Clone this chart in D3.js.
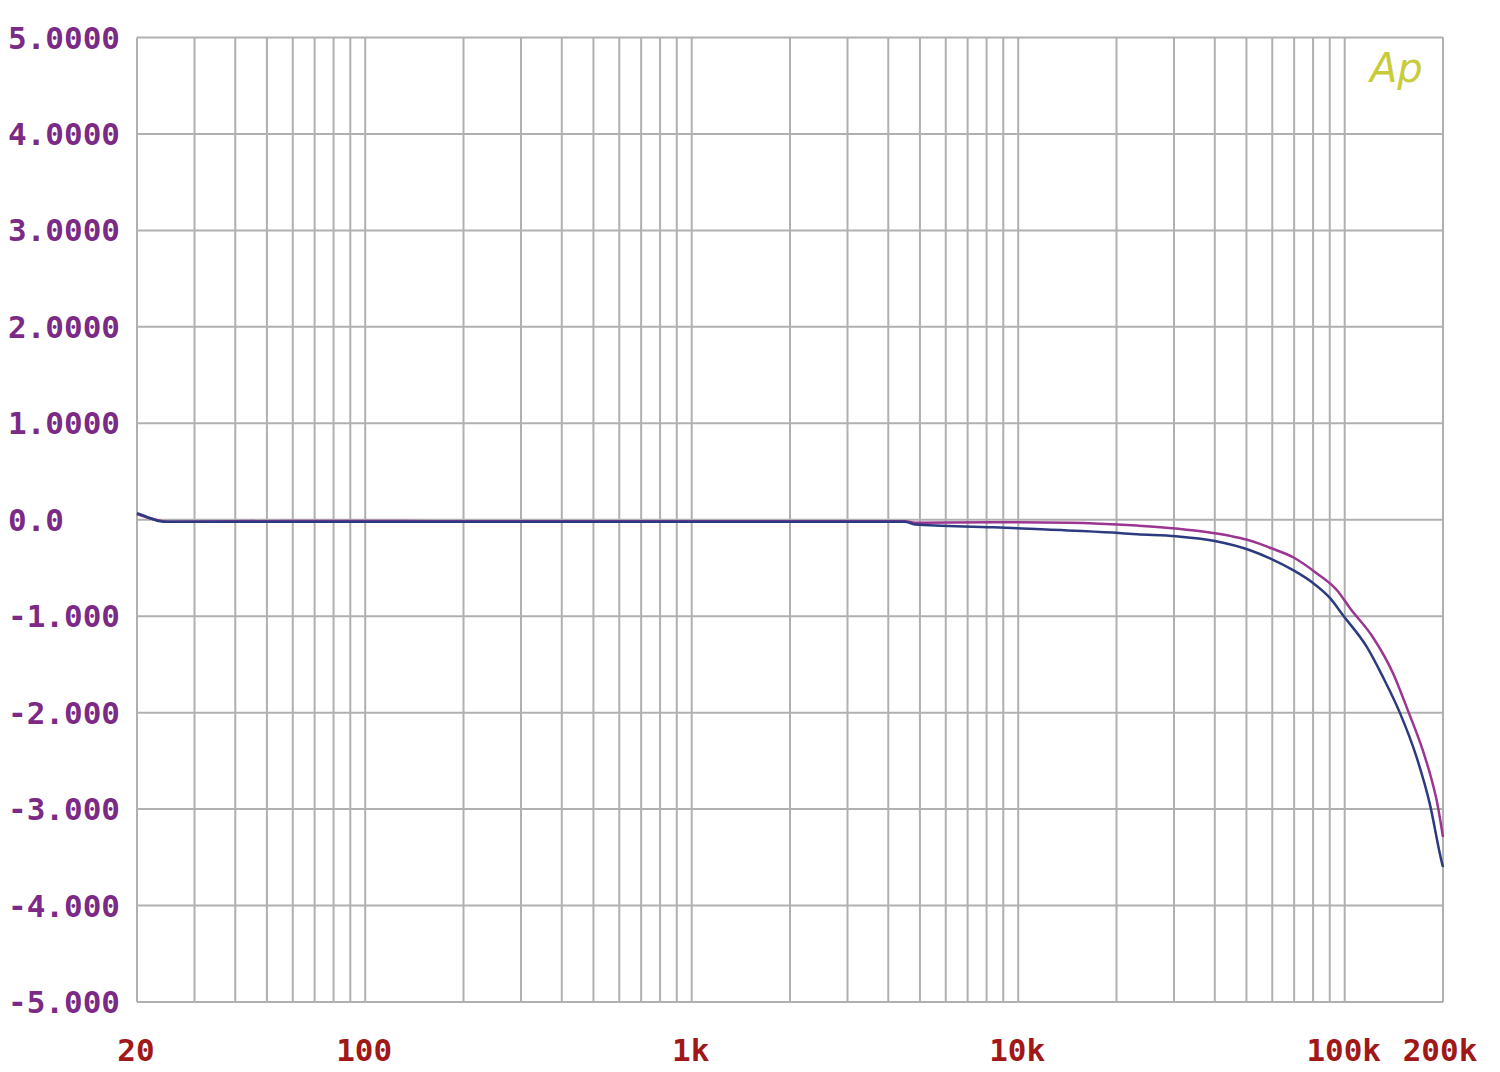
<!DOCTYPE html>
<html><head><meta charset="utf-8">
<script src="https://cdn.jsdelivr.net/npm/d3@7"></script>
<style>html,body{margin:0;padding:0;background:#fff;}</style>
</head><body>
<svg id="c" width="1500" height="1072"></svg>
<script>
// Data
const yTicks = [5, 4, 3, 2, 1, 0, -1, -2, -3, -4, -5];
const yTickLabels = ["5.0000","4.0000","3.0000","2.0000","1.0000","0.0","-1.000","-2.000","-3.000","-4.000","-5.000"];
const xTickValues = [20, 100, 1000, 10000, 100000, 200000];
const xTickLabels = ["20","100","1k","10k","100k","200k"];

const blueFreq = [20, 21.2, 22.2, 23.5, 25, 60, 200, 1000, 4500, 4830, 8400, 12200, 19500, 23100, 30400, 40000, 51300, 59000, 69500, 79400, 90200, 98800, 117000, 131000, 147700, 166000, 182000, 198600, 200000];
const blueVal  = [0.067, 0.036, 0.01, -0.016, -0.022, -0.022, -0.022, -0.02, -0.02, -0.05, -0.078, -0.102, -0.133, -0.15, -0.17, -0.22, -0.316, -0.40, -0.523, -0.648, -0.813, -0.99, -1.321, -1.632, -2.005, -2.461, -2.938, -3.56, -3.6];

const magFreq = [20, 25, 60, 80, 130, 200, 1000, 4500, 4830, 8400, 14400, 23100, 30400, 40000, 45000, 50000, 55000, 59000, 69500, 82000, 94700, 103800, 122000, 140600, 156000, 173800, 182000, 191800, 200000];
const magVal  = [0.06, -0.02, -0.012, -0.012, -0.014, -0.016, -0.016, -0.016, -0.03, -0.025, -0.03, -0.06, -0.09, -0.14, -0.17, -0.205, -0.25, -0.29, -0.389, -0.554, -0.731, -0.917, -1.218, -1.591, -1.974, -2.40, -2.62, -2.93, -3.29];

const svg = d3.select("#c");
const L = 137, R = 1443, T = 37.5, B = 1002;
const x = d3.scaleLog().domain([20, 200000]).range([L, R]);
const y = d3.scaleLinear().domain([-5, 5]).range([B, T]);

// vertical grid lines: 2..9 × decades within domain
const vLines = [];
for (let d = 10; d <= 100000; d *= 10) {
  for (let m = 1; m <= 9; m++) {
    const f = m * d;
    if (f >= 20 && f <= 200000) vLines.push(f);
  }
}
vLines.push(200000);

const grid = svg.append("g").attr("stroke", "#b0b0b0").attr("stroke-width", 2);
grid.selectAll("line.v").data(vLines).enter().append("line")
  .attr("x1", d => x(d)).attr("x2", d => x(d)).attr("y1", T).attr("y2", B);
grid.selectAll("line.h").data(yTicks).enter().append("line")
  .attr("x1", L).attr("x2", R).attr("y1", d => y(d)).attr("y2", d => y(d));

// Y labels
svg.append("g").selectAll("text").data(yTicks).enter().append("text")
  .attr("x", 8).attr("y", d => y(d) + 11)
  .attr("font-family", "DejaVu Sans Mono").attr("font-size", 31).attr("font-weight", "bold")
  .attr("fill", "#7b2a86")
  .text((d, i) => yTickLabels[i]);

// X labels
svg.append("g").selectAll("text").data(xTickValues).enter().append("text")
  .attr("x", d => x(d) - (d === 200000 ? 3 : 1)).attr("y", 1061)
  .attr("text-anchor", "middle")
  .attr("font-family", "DejaVu Sans Mono").attr("font-size", 31).attr("font-weight", "bold")
  .attr("fill", "#a01818")
  .text((d, i) => xTickLabels[i]);

const line = d3.line().curve(d3.curveMonotoneX).x(d => x(d[0])).y(d => y(d[1]));
const magData = magFreq.map((f, i) => [f, magVal[i]]);
const blueData = blueFreq.map((f, i) => [f, blueVal[i]]);

svg.append("path").datum(magData).attr("d", line)
  .attr("fill", "none").attr("stroke", "#9a3592").attr("stroke-width", 2.5);
svg.append("path").datum(blueData).attr("d", line)
  .attr("fill", "none").attr("stroke", "#2c3a80").attr("stroke-width", 2.5);

// Ap logo
svg.append("text").attr("x", 1370).attr("y", 82)
  .attr("font-family", "DejaVu Sans").attr("font-style", "italic")
  .attr("font-weight", 200)
  .attr("font-size", 40).attr("fill", "#c8cc3a")
  .text("Ap");
</script>
</body></html>
